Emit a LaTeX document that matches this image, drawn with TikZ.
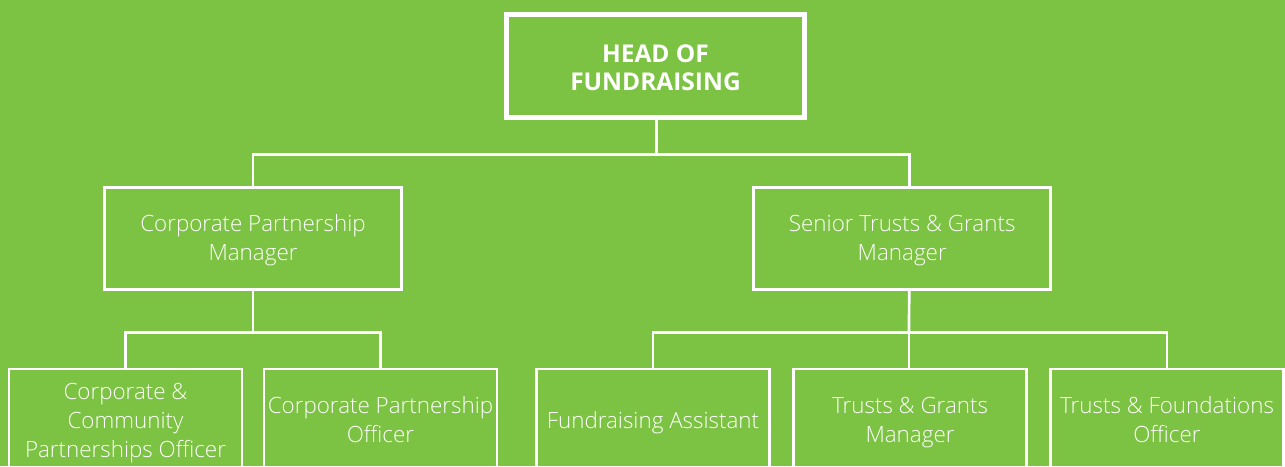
\documentclass[tikz,border=0pt]{standalone}
\usepackage{fontspec}
\setmainfont{Open Sans}
\newfontfamily\lightfont{Open Sans Light}
\definecolor{bggreen}{RGB}{124,194,67}
\newcommand\hstr{\rule{0pt}{24.5pt}}
\newcommand\dstr{\rule[-8.5pt]{0pt}{8.5pt}}
\newcommand\hdstr{\rule[-8.5pt]{0pt}{33pt}}
\begin{document}
\begin{tikzpicture}[x=1pt,y=-1pt,
  box/.style={draw=white,line width=2.5pt,rectangle,text=white,align=center,
    minimum width=297pt,minimum height=102pt,inner sep=0pt,
    font=\lightfont\fontsize{22.4}{29}\selectfont},
  lowbox/.style={box,minimum width=233pt},
  headbox/.style={draw=white,line width=4.7pt,rectangle,text=white,align=center,
    minimum width=298pt,minimum height=103pt,inner sep=0pt,
    font=\bfseries\fontsize{24.5}{28}\selectfont},
  conn/.style={draw=white,line width=2.7pt}]
\fill[bggreen] (0,0) rectangle (1285,466);
\useasboundingbox (0,0) rectangle (1285,466);
\clip (0,0) rectangle (1285,466);
\node[headbox] (head) at (655.5,66.2) {\rule{0pt}{20pt}HEAD OF\\FUNDRAISING};
\node[box] (cpm) at (253,238.4) {\hstr Corporate Partnership\\Manager\dstr};
\node[box] (stg) at (902.2,238.4) {\hstr Senior Trusts \& Grants\\Manager\dstr};
\node[lowbox] (cco) at (125.5,420) {\hstr Corporate \&\\Community\\Partnerships Officer\dstr};
\node[lowbox] (cpo) at (380.5,420) {\hstr Corporate Partnership\\Officer\dstr};
\node[lowbox] (fa) at (653,420) {\hdstr Fundraising Assistant};
\node[lowbox] (tgm) at (910,420) {\hstr Trusts \& Grants\\Manager\dstr};
\node[lowbox] (tfo) at (1167,420) {\hstr Trusts \& Foundations\\Officer\dstr};
\coordinate (b1) at (656.5,154.5);
\coordinate (b2) at (253,332.5);
\coordinate (b3) at (909,332.5);
\draw[conn] (head.south -| b1) -- (b1);
\draw[conn] (cpm.north) |- (b1) -| ([xshift=7pt]stg.north);
\draw[conn] (cpm.south) -- (b2);
\draw[conn] (cco.north) |- (b2) -| (cpo.north);
\draw[conn] ([xshift=7pt]stg.south) -- (b3);
\draw[conn] (fa.north) |- (b3) -| (tfo.north);
\draw[conn] (b3) -- (tgm.north -| b3);
\end{tikzpicture}
\end{document}
